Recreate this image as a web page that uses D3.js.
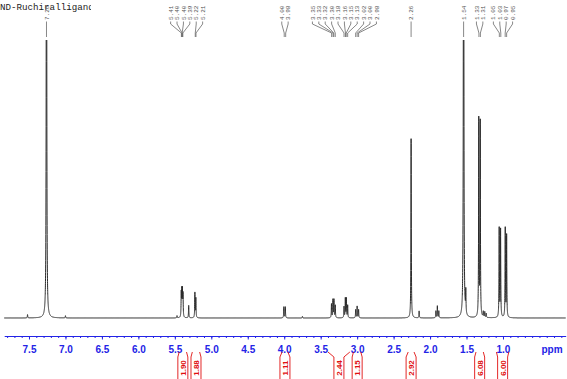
<!DOCTYPE html>
<html>
<head>
<meta charset="utf-8">
<script src="https://cdn.jsdelivr.net/npm/d3@7"></script>
<style>
  html, body { margin: 0; padding: 0; background: #fff; }
  svg { display: block; }
</style>
</head>
<body>
<svg id="chart" width="567" height="379"></svg>
<script>
// ---------------- data ----------------
const title = "ND-Ruchiralligand";

// peak positions (ppm) and heights (relative intensity, 100 = top of plot)
const peakPpm = [7.52, 7.26, 7.00, 5.47, 5.412, 5.404, 5.396, 5.388, 5.31, 5.225, 5.212,
  4.005, 3.985, 3.75, 3.352, 3.332, 3.318, 3.300, 3.18, 3.162, 3.148, 3.130,
  3.02, 3.00, 2.98, 2.26, 2.15, 1.92, 1.90, 1.88, 1.54, 1.51, 1.332, 1.312,
  1.27, 1.25, 1.23, 1.052, 1.033, 0.969, 0.950];
const peakHeight = [1.2, 300, 0.8, 0.8, 8.5, 9, 9, 8, 4.5, 9, 7,
  4.0, 4.0, 0.6, 5, 6.5, 6.5, 4.5, 4, 7, 7, 4.5,
  3, 4.2, 3, 64.5, 2.5, 2.5, 4.3, 2.5, 300, 8, 71, 70,
  2, 2, 1.5, 32, 31.5, 32, 29.5];

// picked peak labels (text, ppm of the peak they point to)
const labelText = ["7.26", "5.41", "5.40", "5.40", "5.39", "5.22", "5.21", "4.00", "3.98",
  "3.35", "3.33", "3.32", "3.30", "3.18", "3.16", "3.15", "3.13", "3.02", "3.00", "2.98",
  "2.26", "1.54", "1.33", "1.31", "1.05", "1.03", "0.97", "0.95"];
const labelPpm = [7.26, 5.41, 5.40, 5.40, 5.39, 5.22, 5.21, 4.00, 3.98,
  3.35, 3.33, 3.32, 3.30, 3.18, 3.16, 3.15, 3.13, 3.02, 3.00, 2.98,
  2.26, 1.54, 1.33, 1.31, 1.05, 1.03, 0.97, 0.95];

// integrals: value, from ppm, to ppm
const integralValue = ["1.90", "1.88", "1.11", "2.44", "1.15", "2.92", "6.08", "6.00"];
const integralFrom = [5.44, 5.26, 4.03, 3.40, 3.05, 2.30, 1.37, 1.09];
const integralTo = [5.34, 5.16, 3.95, 3.10, 2.95, 2.22, 1.27, 0.92];

// axis ticks
const majorTicks = [7.5, 7.0, 6.5, 6.0, 5.5, 5.0, 4.5, 4.0, 3.5, 3.0, 2.5, 2.0, 1.5, 1.0];
const axisUnit = "ppm";

// ---------------- layout ----------------
const svg = d3.select("#chart");
const W = 567, H = 379;
const baseY = 318, topY = 40, axisY = 336;

const x = d3.scaleLinear().domain([7.84, 0.14]).range([4.2, 565.7]);
const y = d3.scaleLinear().domain([0, 100]).range([baseY, topY]);

const blue = "#2323e6";
const red = "#e01010";

// title
svg.append("clipPath").attr("id", "titleClip")
  .append("rect").attr("x", 0).attr("y", 0).attr("width", 91).attr("height", 14);
svg.append("text")
  .attr("x", 0).attr("y", 10)
  .attr("clip-path", "url(#titleClip)")
  .style("font-family", "'Liberation Mono', 'DejaVu Sans Mono', monospace")
  .style("font-size", "9.2px")
  .attr("fill", "#222")
  .text(title);

// spectrum
const g = 0.003;
const pts = [];
for (let p = 7.84; p >= 0.14; p -= 0.0005) {
  let s = 0;
  for (let i = 0; i < peakPpm.length; i++) {
    const d = p - peakPpm[i];
    s += peakHeight[i] * g * g / (g * g + d * d);
  }
  pts.push([p, s]);
}
svg.append("clipPath").attr("id", "specClip")
  .append("rect").attr("x", 0).attr("y", topY).attr("width", W).attr("height", axisY - topY - 4);
svg.append("path")
  .datum(pts)
  .attr("clip-path", "url(#specClip)")
  .attr("fill", "none")
  .attr("stroke", "#2a2a2a")
  .attr("stroke-width", 1)
  .attr("d", d3.line().x(d => x(d[0])).y(d => y(d[1])));

// peak labels: cluster layout
const spacing = 6.4;
const items = labelPpm.map((p, i) => ({ text: labelText[i], px: x(p), lx: x(p) }));
let clusters = items.map(it => [it]);
let changed = true;
function layoutCluster(c) {
  const mean = d3.mean(c, d => d.px);
  const start = mean - (c.length - 1) * spacing / 2;
  c.forEach((d, k) => d.lx = start + k * spacing);
}
while (changed) {
  changed = false;
  clusters.forEach(layoutCluster);
  for (let i = 0; i < clusters.length - 1; i++) {
    const a = clusters[i], b = clusters[i + 1];
    if (b[0].lx - a[a.length - 1].lx < spacing) {
      clusters.splice(i, 2, a.concat(b));
      changed = true;
      break;
    }
  }
}
clusters.forEach(layoutCluster);

const lab = svg.append("g");
items.forEach(d => {
  lab.append("path")
    .attr("d", `M${d.lx},21.5 L${d.lx},24 L${d.px},33 L${d.px},37`)
    .attr("fill", "none").attr("stroke", "#555").attr("stroke-width", 0.7);
  lab.append("text")
    .attr("transform", `translate(${d.lx + 2.1},20) rotate(-90)`)
    .style("font-family", "'Liberation Mono', 'DejaVu Sans Mono', monospace")
    .style("font-size", "6px")
    .attr("fill", "#555")
    .text(d.text);
});

// axis
const axisG = svg.append("g").attr("transform", `translate(0,${axisY})`);
const minor = d3.range(78, 1, -1).map(v => v / 10);
axisG.call(d3.axisBottom(x).tickValues(minor).tickSize(2).tickSizeOuter(0).tickFormat(""));
axisG.select(".domain").attr("stroke", blue).attr("stroke-width", 1);
axisG.selectAll(".tick line").attr("stroke", blue);
const axisG2 = svg.append("g").attr("transform", `translate(0,${axisY})`);
axisG2.call(d3.axisBottom(x).tickValues(majorTicks).tickSize(3.5).tickSizeOuter(0).tickPadding(6)
  .tickFormat(d3.format(".1f")));
axisG2.select(".domain").remove();
axisG2.selectAll(".tick line").attr("stroke", blue);
axisG2.selectAll(".tick text")
  .attr("fill", blue)
  .style("font-family", "'Liberation Sans', Arial, sans-serif")
  .style("font-size", "10px")
  .style("font-weight", "bold");
svg.append("text")
  .attr("x", 552).attr("y", axisY + 6 + 3.5 + 7.1)
  .attr("text-anchor", "middle")
  .attr("fill", blue)
  .style("font-family", "'Liberation Sans', Arial, sans-serif")
  .style("font-size", "10px")
  .style("font-weight", "bold")
  .text(axisUnit);

// integrals
const integ = svg.append("g");
integralValue.forEach((v, i) => {
  const x1 = x(integralFrom[i]), x2 = x(integralTo[i]);
  const cx = (x1 + x2) / 2;
  const hw = 5;
  integ.append("path")
    .attr("d", `M${x1},352 L${cx - hw},357 L${cx - hw},379 M${x2},352 L${cx + hw},357 L${cx + hw},379`)
    .attr("fill", "none").attr("stroke", red).attr("stroke-width", 0.9);
  integ.append("text")
    .attr("transform", `translate(${cx + 3},368) rotate(-90)`)
    .attr("text-anchor", "middle")
    .attr("fill", red)
    .style("font-family", "'Liberation Sans', Arial, sans-serif")
    .style("font-size", "8px")
    .style("font-weight", "bold")
    .text(v);
});
</script>
</body>
</html>
